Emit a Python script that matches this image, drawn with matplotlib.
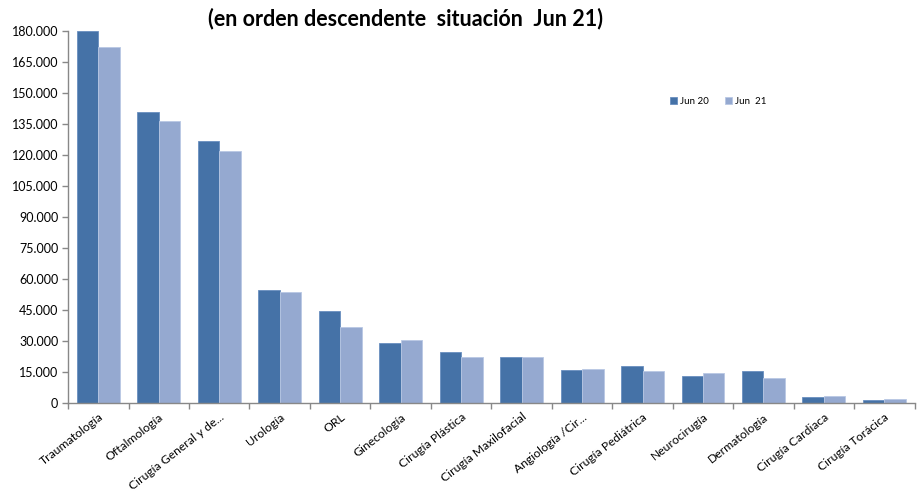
import matplotlib
matplotlib.use("Agg")
import matplotlib.pyplot as plt
import numpy as np
from matplotlib.ticker import FuncFormatter, MultipleLocator, FixedLocator

plt.rcParams['font.family'] = ['Lato', 'DejaVu Sans']

categories = ["Traumatología", "Oftalmología", "Cirugía General y de...", "Urología", "ORL",
              "Ginecología", "Cirugía Plástica", "Cirugía Maxilofacial", "Angiología /Cir...",
              "Cirugía Pediátrica", "Neurocirugía", "Dermatología", "Cirugía Cardiaca",
              "Cirugía Torácica"]
jun20 = [180000, 140500, 126500, 54700, 44450, 29000, 24800, 22400, 15800, 17900, 12900, 15300, 3100, 1600]
jun21 = [172200, 136300, 121600, 53600, 36700, 30400, 22200, 22200, 16300, 15500, 14300, 12100, 3400, 1800]
series_names = ["Jun 20", "Jun  21"]
title = "(en orden descendente  situación  Jun 21)"

c_dark = "#4572A7"
c_light = "#95A9D0"

fig = plt.figure(figsize=(9.22, 4.94), dpi=100)
ax = fig.add_axes([0.0738, 0.1842, 0.9182, 0.7538])

x = np.arange(len(categories))
w = 0.355
ax.bar(x - w / 2, jun20, width=w, color=c_dark, edgecolor="#6a8fc0", linewidth=0.6, label=series_names[0])
ax.bar(x + w / 2, jun21, width=w, color=c_light, edgecolor="#b9c8e4", linewidth=0.6, label=series_names[1])

ax.set_xlim(-0.5, len(categories) - 0.5)
ax.set_ylim(0, 180000)
ax.yaxis.set_major_locator(MultipleLocator(15000))
ax.yaxis.set_major_formatter(FuncFormatter(lambda v, p: f"{int(v):,}".replace(",", ".")))

ax.set_xticks(x)
ax.set_xticklabels(categories, rotation=38, ha="right", rotation_mode="anchor", fontsize=8.7)
ax.tick_params(axis="x", which="major", length=0, pad=6)
ax.xaxis.set_minor_locator(FixedLocator(np.arange(-0.5, len(categories), 1.0)))
ax.tick_params(axis="x", which="minor", length=4, color="#888888", width=1)
ax.tick_params(axis="y", length=4, color="#888888", width=1, labelsize=9, pad=3)

for s in ["top", "right"]:
    ax.spines[s].set_visible(False)
for s in ["left", "bottom"]:
    ax.spines[s].set_color("#888888")
    ax.spines[s].set_linewidth(1)

fig.text(0.44, 0.962, title, ha="center", va="center", fontsize=15.5, fontweight="bold")

leg = ax.legend(loc="center", bbox_to_anchor=(0.768, 0.81), ncol=2, frameon=False, fontsize=7,
                handlelength=0.8, handleheight=0.8, handletextpad=0.3, columnspacing=1.6)

fig.savefig("out.png", dpi=100)
